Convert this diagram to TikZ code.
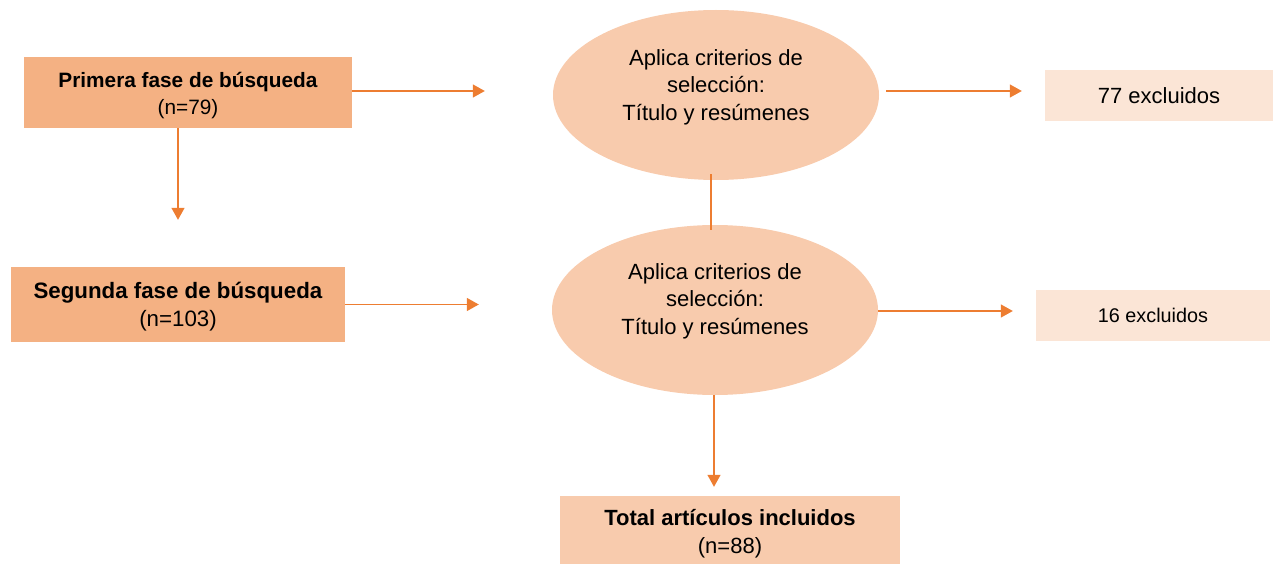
\documentclass[tikz,border=0pt]{standalone}
\usepackage{fontspec}
\setmainfont{Liberation Sans}
\usetikzlibrary{shapes.geometric,arrows.meta}
\definecolor{darkpeach}{HTML}{F4B183}
\definecolor{peach}{HTML}{F8CBAD}
\definecolor{lightpeach}{HTML}{FBE5D6}
\definecolor{arrowor}{HTML}{ED7D31}
\tikzset{
  phasebox/.style={fill=darkpeach,draw=none,inner sep=0pt},
  boxtext/.style={align=center,inner sep=0pt},
  critellipse/.style={ellipse,fill=peach,draw=none,inner sep=0pt,minimum width=326pt,minimum height=170pt},
  crittext/.style={align=center,inner sep=0pt,font=\fontsize{22}{27.5}\selectfont},
  exclbox/.style={fill=lightpeach,draw=none,inner sep=0pt,minimum height=51pt},
  totalbox/.style={fill=peach,draw=none,inner sep=0pt,align=center,minimum width=340pt,minimum height=76pt,font=\fontsize{22}{28}\selectfont},
  conn/.style={draw=arrowor,line width=1.4pt},
  arr/.style={conn,-{Triangle[length=12pt,width=13pt]}}
}
\begin{document}
\begin{tikzpicture}[x=1pt,y=-1pt]
\useasboundingbox (0,0) rectangle (1273,564);
\node[phasebox,minimum width=328pt,minimum height=71pt] (p1) at (188,92.5) {};
\node[boxtext,font=\fontsize{20.8}{27}\selectfont] (p1t) at (188,96) {\textbf{Primera fase de búsqueda}\\(n=79)};
\node[phasebox,minimum width=334pt,minimum height=75pt] (p2) at (178,304.5) {};
\node[boxtext,font=\fontsize{22.3}{27.5}\selectfont] (p2t) at (178,306.5) {\textbf{Segunda fase de búsqueda}\\(n=103)};
\node[critellipse] (e1) at (716,95) {};
\node[crittext] (t1) at (716,87) {Aplica criterios de\\selección:\\Título y resúmenes};
\node[critellipse] (e2) at (715,310) {};
\node[crittext] (t2) at (715,301) {Aplica criterios de\\selección:\\Título y resúmenes};
\node[exclbox,minimum width=228pt,font=\fontsize{22}{26}\selectfont] (x1) at (1159,95.5) {77 excluidos};
\node[exclbox,minimum width=234pt,font=\fontsize{19.8}{23}\selectfont] (x2) at (1153,315.5) {16 excluidos};
\node[totalbox] (tot) at (730,534) {\textbf{Total artículos incluidos}\\(n=88)};
\coordinate (p1d) at ([xshift=-10pt]p1.south);
\draw[arr,shorten >=68pt] ([yshift=1.5pt]p1.east) -- ([yshift=1.5pt]p1.east -| e1.west);
\draw[arr,shorten >=47pt] (p1d) -- (p1d |- p2.north);
\draw[arr,shorten >=73pt] (p2.east) -- (p2.east -| e2.west);
\draw[arr,shorten <=7pt,shorten >=23pt] ([yshift=4pt]e1.east) -- ([yshift=4pt]e1.east -| x1.west);
\draw[arr,shorten >=23pt] ([yshift=-1pt]e2.east) -- ([yshift=-1pt]e2.east -| x2.west);
\draw[conn,shorten <=-6pt,shorten >=-5pt] ([xshift=-5pt]e1.south) -- ([xshift=-4pt]e2.north);
\draw[arr,shorten >=9pt] ([xshift=-1pt]e2.south) -- ([xshift=-1pt]e2.south |- tot.north);
\end{tikzpicture}
\end{document}
